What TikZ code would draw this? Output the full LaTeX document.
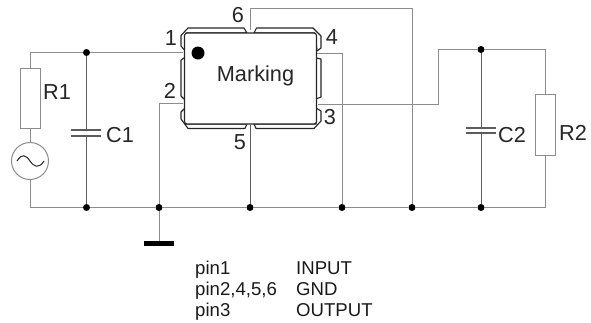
\documentclass[tikz,border=0pt]{standalone}
\usepackage{fontspec}
\setmainfont{Liberation Sans}
\definecolor{wire}{gray}{0.55}
\definecolor{dark}{gray}{0.2}
\tikzset{
  wireline/.style={draw=wire,line width=1pt},
  capwire/.style={draw=dark!80!white,line width=1pt},
  plate/.style={draw=dark!80!white,line width=1.1pt},
  pkg/.style={draw=black!85,line width=1.1pt,fill=white,line join=round},
  dotj/.style={circle,fill=black,inner sep=0pt,minimum size=7pt},
  lab/.style={font=\fontsize{21.7}{21.7}\selectfont,text=black!85,inner sep=0pt},
  small/.style={font=\fontsize{18.6}{18.6}\selectfont,text=black!90,inner sep=0pt,anchor=base west},
  comp/.style={draw=wire,line width=1pt,fill=white,minimum width=20pt,inner sep=0pt}
}
\begin{document}
\begin{tikzpicture}[x=1pt,y=-1pt]
\useasboundingbox (0,0) rectangle (591,322);
% junctions
\node[dotj] (j1) at (86.5,52.5) {};
\node[dotj] (j2) at (86.5,207.5) {};
\node[dotj] (j3) at (159,207.5) {};
\node[dotj] (j4) at (250,207.5) {};
\node[dotj] (j5) at (342,207.5) {};
\node[dotj] (j6) at (412,207.5) {};
\node[dotj] (j7) at (481,207.5) {};
\node[dotj] (j8) at (481,49.5) {};
\coordinate (tl) at (30,52.5);
\coordinate (bl) at (30,207.5);
\coordinate (tr) at (545,49.5);
\coordinate (br) at (545,207.5);
% wires
\draw[wireline] (183,52.5) -- (j1) -- (tl) -- (bl) -- (j2) -- (j3) -- (j4) -- (j5) -- (j6) -- (j7) -- (br) -- (tr) -- (j8) -- (438,49.5) -- (438,104) -- (318,104);
\draw[wireline] (183,103.5) -- (159,103.5) -- (j3) -- (159,243);
\draw[wireline] (250,30) -- (250,8) -- (412,8) -- (j6);
\draw[wireline] (317,53) -- (342,53) -- (j5);
\draw[capwire] (250,125) -- (j4);
\draw[capwire] (j1) -- (86.5,130) (86.5,136) -- (j2);
\draw[capwire] (j8) -- (481,128) (481,133) -- (j7);
% capacitors
\draw[plate] (71,130) -- (101,130) (71,136) -- (101,136);
\draw[plate] (466,128) -- (496,128) (466,133) -- (496,133);
% components
\node[comp,minimum height=60pt] (R1) at (30,98) {};
\node[comp,minimum height=61pt] (R2) at (545,125) {};
\node[circle,draw=wire,line width=1pt,fill=white,minimum size=37pt,inner sep=0pt] (V) at (30,161) {};
\draw[black!85,line width=1pt] (17,161) .. controls (22,153) and (26,155) .. (30,161) .. controls (34,167) and (39,169) .. (44,161);
\fill[black] (144,241) rectangle (174,246);
% package pads
\draw[pkg] (247,33) -- (244,28) -- (188,28) -- (181,35.5) -- (181,46) -- (184,49.5) -- (186,49.5) -- (186,33) -- cycle;
\draw[pkg] (254,33) -- (256.5,28) -- (313,28) -- (321,36) -- (321,48) -- (317,51) -- (315,33) -- cycle;
\draw[pkg] (184,58) -- (181,60) -- (181,96) -- (184,99) -- (186,99) -- (186,58) -- cycle;
\draw[pkg] (316,58) -- (321,59) -- (321,97) -- (316,99) -- cycle;
\draw[pkg] (184,109) -- (181,112) -- (181,119) -- (188,128.5) -- (245,128.5) -- (247,124) -- (186,124) -- (186,109) -- cycle;
\draw[pkg] (316,108) -- (321,111) -- (321,121) -- (314,128.5) -- (256,128.5) -- (254,124) -- (316,124) -- cycle;
\draw[pkg,rounded corners=2.5pt] (184.5,33) rectangle (316.5,124);
\fill[black] (198,53) circle (6.5pt);
% labels
\node[lab] (lM) at (255.5,75.5) {Marking};
\node[lab] (l1) at (171,38) {1};
\node[lab] (l2) at (170,90.5) {2};
\node[lab] (l3) at (330,117) {3};
\node[lab] (l4) at (332,37.5) {4};
\node[lab] (l5) at (240,142) {5};
\node[lab] (l6) at (238,15) {6};
\node[lab] (lR1) at (57,92) {R1};
\node[lab] (lC1) at (120,135.5) {C1};
\node[lab] (lC2) at (512,135.5) {C2};
\node[lab] (lR2) at (573,133) {R2};
\node[small] (a1) at (195,274) {pin1};
\node[small] (a2) at (195,295) {pin2,4,5,6};
\node[small] (a3) at (195,316) {pin3};
\node[small] (b1) at (296,274) {INPUT};
\node[small] (b2) at (296,295) {GND};
\node[small] (b3) at (296,316) {OUTPUT};
\end{tikzpicture}
\end{document}
